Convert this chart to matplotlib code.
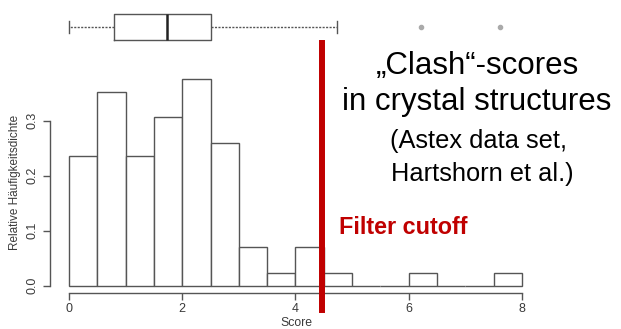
import matplotlib
matplotlib.use("Agg")
import matplotlib.pyplot as plt
import numpy as np

plt.rcParams['font.family'] = ['Liberation Sans', 'DejaVu Sans']

# Histogram of clash scores (density, bin width 0.5)
bin_edges = [0.0, 0.5, 1.0, 1.5, 2.0, 2.5, 3.0, 3.5, 4.0, 4.5, 5.0, 5.5, 6.0, 6.5, 7.0, 7.5, 8.0]
density = [0.235, 0.353, 0.235, 0.306, 0.376, 0.259, 0.071, 0.024,
           0.071, 0.024, 0.0, 0.0, 0.024, 0.0, 0.0, 0.024]

# Box plot summary of the same scores
box_q1, box_median, box_q3 = 0.80, 1.74, 2.51
whisker_low, whisker_high = 0.0, 4.73
outliers = [6.22, 7.62]

cutoff = 4.47

x_ticks = [0, 2, 4, 6, 8]
y_ticks = [0.0, 0.1, 0.2, 0.3]
y_tick_labels = ["0.0", "0.1", "0.2", "0.3"]

W, H = 621, 329
fig = plt.figure(figsize=(W / 100, H / 100), dpi=100)

# --- histogram axes (pixel layout) ---
px_left, px_right, px_top, px_bottom = 50, 530, 40, 293.3
ax = fig.add_axes([px_left / W, (H - px_bottom) / H,
                   (px_right - px_left) / W, (px_bottom - px_top) / H])
ppu_x = 56.6
ppu_y = 550.0
x0_px, y0_px = 69, 285.7
xlim = ((px_left - x0_px) / ppu_x, (px_right - x0_px) / ppu_x)
ylim = ((y0_px - px_bottom) / ppu_y, (y0_px - px_top) / ppu_y)
ax.set_xlim(*xlim)
ax.set_ylim(*ylim)

edge = "#555555"
text_grey = "#3a3a3a"
widths = np.diff(bin_edges)
ax.bar(bin_edges[:-1], density, width=widths, align="edge",
       facecolor="white", edgecolor=edge, linewidth=1.0)

for s in ["top", "right"]:
    ax.spines[s].set_visible(False)
ax.spines["left"].set_bounds(0.0, 0.3)
ax.spines["bottom"].set_bounds(0, 8)
for s in ["left", "bottom"]:
    ax.spines[s].set_color(edge)
    ax.spines[s].set_linewidth(1.0)

ax.set_xticks(x_ticks)
ax.set_xticklabels([str(t) for t in x_ticks])
ax.set_yticks(y_ticks)
ax.set_yticklabels(y_tick_labels, rotation=90, va="center")
ax.tick_params(axis="both", direction="out", length=5, width=1.0,
               color=edge, labelcolor=text_grey, labelsize=9)
ax.tick_params(axis="y", pad=3)
ax.tick_params(axis="x", pad=2)

fig.text(296 / W, 1 - 323 / H, "Score", ha="center", va="center",
         fontsize=8.8, color=text_grey)
fig.text(15 / W, 1 - 182 / H, "Relative Häufigkeitsdichte", ha="center",
         va="center", rotation=90, fontsize=8.5, color=text_grey)

# Filter cutoff line
axis_h = px_bottom - px_top
ax.axvline(cutoff, ymin=(px_bottom - 310) / axis_h, ymax=(px_bottom - 43.3) / axis_h,
           color="#c00000", linewidth=4.3, clip_on=False, zorder=5)

# --- box plot axes on top ---
bx_top, bx_bottom = 0, 50
bax = fig.add_axes([px_left / W, (H - bx_bottom) / H,
                    (px_right - px_left) / W, (bx_bottom - bx_top) / H])
bax.set_xlim(*xlim)
bax.set_ylim(0, 1)
bax.axis("off")
stats = [dict(q1=box_q1, med=box_median, q3=box_q3,
              whislo=whisker_low, whishi=whisker_high, fliers=outliers)]
bax.bxp(stats, positions=[(50 - 26.5) / 50], widths=[26 / 50],
        vert=False, capwidths=[12 / 50], manage_ticks=False,
        boxprops=dict(color=edge, linewidth=1.0),
        medianprops=dict(color="#222222", linewidth=1.8),
        whiskerprops=dict(color=edge, linewidth=1.0, linestyle=(0, (1.5, 1.0))),
        capprops=dict(color=edge, linewidth=1.0),
        flierprops=dict(marker="o", markersize=3, markerfacecolor="#aaaaaa",
                        markeredgecolor="#aaaaaa"))

# --- annotation texts ---
fig.text(477 / W, 1 - 66 / H, "\u201eClash\u201c-scores", ha="center", va="center",
         fontsize=22.5, color="black")
fig.text(477 / W, 1 - 102 / H, "in crystal structures", ha="center", va="center",
         fontsize=22.5, color="black")
fig.text(478 / W, 1 - 141 / H, "(Astex data set,", ha="center", va="center",
         fontsize=18.3, color="black")
fig.text(482 / W, 1 - 174 / H, "Hartshorn et al.)", ha="center", va="center",
         fontsize=18.3, color="black")
fig.text(339 / W, 1 - 228 / H, "Filter cutoff", ha="left", va="center",
         fontsize=16.8, fontweight="bold", color="#c00000")

fig.savefig("out.png", dpi=100)
